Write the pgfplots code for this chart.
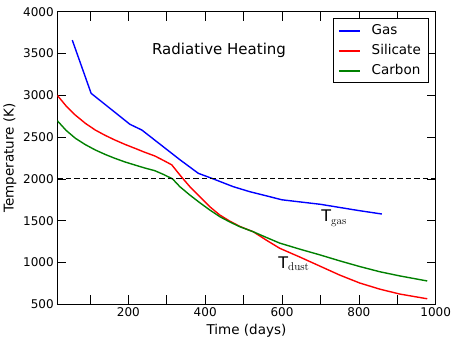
\documentclass[border=0pt]{standalone}
\usepackage{pgfplots}
\pgfplotsset{compat=1.18}
\usepackage{fontspec}
\newfontfamily\dejavu{DejaVu Sans}
\definecolor{mplgreen}{rgb}{0,0.5,0}

\begin{document}
\begin{tikzpicture}
\begin{axis}[
    scale only axis,
    width=378.4pt, height=292.6pt,
    xmin=15, xmax=1000,
    ymin=500, ymax=4000,
    xtick={100,200,...,1000},
    xticklabels={{},200,{},400,{},600,{},800,{},1000},
    ytick={500,1000,...,4000},
    tick align=inside,
    xtick pos=both, ytick pos=both,
    major tick length=9pt,
    tick style={black, line width=0.6pt},
    axis line style={black, line width=0.9pt},
    ticklabel style={font=\dejavu\fontsize{12}{14}\selectfont},
    /pgf/number format/assume math mode=true,
    /pgf/number format/1000 sep={},
    scaled ticks=false,
    xlabel={Time (days)},
    ylabel={Temperature (K)},
    label style={font=\dejavu\fontsize{13.5}{16}\selectfont},
    legend style={at={(0.9815,0.977)}, anchor=north east,
        draw=black, line width=0.8pt, inner sep=4.5pt,
        font=\dejavu\fontsize{13.5}{16}\selectfont,
        row sep=5pt, column sep=8pt,
        nodes={inner xsep=3pt, inner ysep=1pt, text height=10pt, text depth=3pt}},
    legend cell align=left,
    legend image code/.code={\draw[#1] (0pt,0pt) -- (21pt,0pt);},
]
\coordinate (sw) at (rel axis cs:0,0);
\coordinate (ne) at (rel axis cs:1,1);

% gas
\addplot[blue, line width=1.4pt] coordinates {
    (54,3660) (103,3024) (204,2653) (235,2585) (334,2230) (382,2067)
    (421,2000) (473,1907) (516,1847) (600,1750) (700,1696) (800,1621) (860,1580)
};
\addlegendentry{Gas}

% silicate
\addplot[red, line width=1.4pt] coordinates {
    (15,3000) (38,2872) (62,2763) (88,2665) (114,2584) (140,2520) (165,2465)
    (191,2413) (217,2366) (243,2318) (269,2274) (291,2222) (313,2168)
    (334,2047) (360,1907) (386,1787) (412,1667) (438,1568) (464,1495) (490,1432)
    (525,1368) (560,1265) (594,1170) (646,1066) (698,958) (750,850) (802,755)
    (854,682) (906,623) (978,566)
};
\addlegendentry{Silicate}

% carbon
\addplot[mplgreen, line width=1.4pt] coordinates {
    (15,2696) (38,2580) (62,2486) (88,2410) (114,2346) (140,2292) (165,2246)
    (191,2203) (217,2166) (243,2130) (269,2098) (292,2052) (315,2000)
    (334,1907) (360,1807) (386,1715) (412,1628) (438,1548) (464,1485) (490,1428)
    (525,1368) (560,1298) (594,1232) (646,1160) (698,1092) (750,1020) (802,952)
    (854,890) (906,840) (978,779)
};
\addlegendentry{Carbon}

\addplot[black, line width=0.9pt, dash pattern=on 5.5pt off 3pt, forget plot]
    coordinates {(15,2000) (1000,2000)};

\node[anchor=base, font=\dejavu\fontsize{15}{18}\selectfont] at (axis cs:436,3494) {Radiative Heating};
\node[anchor=base west, inner sep=0pt, font=\fontsize{16}{19}\selectfont] at (axis cs:702,1488) {{\dejavu T}$_{\mathrm{gas}}$};
\node[anchor=base west, inner sep=0pt, font=\fontsize{16}{19}\selectfont] at (axis cs:590,931) {{\dejavu T}$_{\mathrm{dust}}$};
\end{axis}
\pgfresetboundingbox
\path ([shift={(-57.3pt,-38.7pt)}]sw) rectangle ([shift={(21.3pt,11.7pt)}]ne);
\end{tikzpicture}
\end{document}
